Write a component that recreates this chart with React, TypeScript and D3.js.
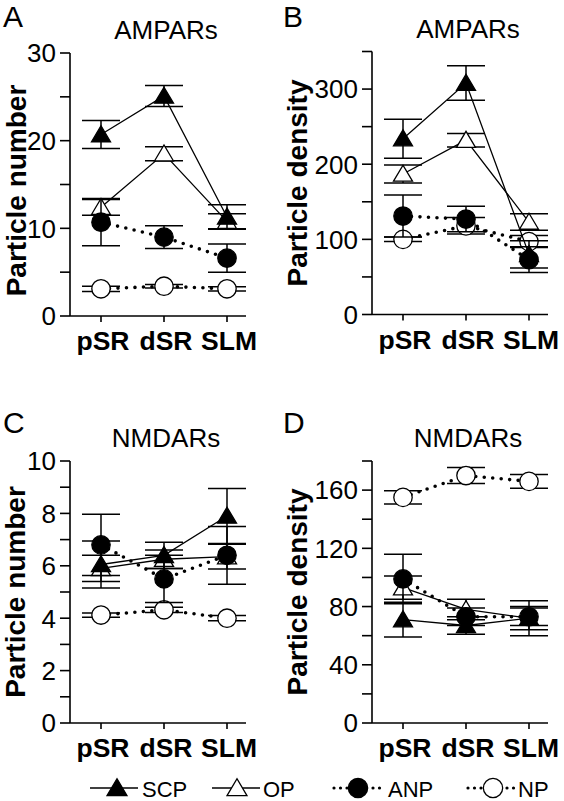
import React from "react";
import * as d3 from "d3";

const categories = ["pSR", "dSR", "SLM"];
const seriesNames = ["SCP", "OP", "ANP", "NP"];

// Panel A: AMPAR particle number (rows: SCP, OP, ANP, NP)
const ampaNumMeans = [
  [20.7, 25.1, 11.3],
  [12.4, 18.5, 10.8],
  [10.7, 9.0, 6.6],
  [3.1, 3.4, 3.1],
];
const ampaNumErrs = [
  [1.6, 1.2, 1.4],
  [0.9, 0.8, 0.85],
  [2.7, 1.3, 1.6],
  [0.3, 0.2, 0.25],
];
// Panel B: AMPAR particle density
const ampaDenMeans = [
  [234, 308, 80],
  [187, 232, 123],
  [131, 127, 73],
  [100, 118, 97],
];
const ampaDenErrs = [
  [26, 23, 18],
  [12, 9, 11],
  [28, 17, 17],
  [3, 11, 8],
];
// Panel C: NMDAR particle number
const nmdaNumMeans = [
  [6.05, 6.4, 7.9],
  [5.9, 6.25, 6.35],
  [6.8, 5.5, 6.4],
  [4.12, 4.32, 4.0],
];
const nmdaNumErrs = [
  [0.9, 0.5, 1.05],
  [0.5, 0.35, 0.47],
  [1.17, 0.9, 1.1],
  [0.08, 0.1, 0.1],
];
// Panel D: NMDAR particle density
const nmdaDenMeans = [
  [71, 67, 72],
  [93, 78, 72],
  [99, 73, 73],
  [155, 170, 166],
];
const nmdaDenErrs = [
  [12, 6, 12],
  [8, 7, 8],
  [17, 6, 6],
  [4.5, 5.5, 4.8],
];

const FONT = "'Liberation Sans', Arial, sans-serif";
const drawOrder = [3, 1, 0, 2];

function Marker({ i, x, y, s = 1 }: { i: number; x: number; y: number; s?: number }) {
  const filled = i === 0 || i === 2;
  if (i < 2) {
    const w = 9.5 * s, h = 16 * s;
    const pts = `${x - w},${y + h * 0.45} ${x + w},${y + h * 0.45} ${x},${y - h * 0.55}`;
    return <polygon points={pts} fill={filled ? "#000" : "#fff"} stroke="#000" strokeWidth={1.3} strokeLinejoin="miter" />;
  }
  return <circle cx={x} cy={y} r={9.2 * s} fill={filled ? "#000" : "#fff"} stroke="#000" strokeWidth={1.3} />;
}

function Panel(props: {
  x0: number; yBase: number; yTop: number; max: number; tickStep: number; labelStep: number;
  means: number[][]; errs: number[][]; letter: string; title: string; ylabel: string; ylabelX: number;
  letterX: number; letterY: number; ylabelDy: number;
}) {
  const { x0, yBase, yTop, max, tickStep, labelStep, means, errs } = props;
  const x = d3.scalePoint<string>().domain(categories).range([x0 + 31, x0 + 157]);
  const y = d3.scaleLinear().domain([0, max]).range([yBase, yTop]);
  const ticks = d3.range(0, max + tickStep / 2, tickStep);
  const line = d3.line<number>().x((_, j) => x(categories[j])!).y((v) => y(v));
  const midX = x(categories[1])!;
  return (
    <g>
      <text x={props.letterX} y={props.letterY} fontSize={30} fontFamily={FONT}>{props.letter}</text>
      <text x={midX + 2} y={yTop - 14} fontSize={26} fontFamily={FONT} textAnchor="middle">{props.title}</text>
      <text transform={`translate(${props.ylabelX},${(yBase + yTop) / 2 + props.ylabelDy}) rotate(-90)`} fontSize={28} fontWeight="bold" fontFamily={FONT} textAnchor="middle">{props.ylabel}</text>
      {/* y axis */}
      <line x1={x0} x2={x0} y1={yBase} y2={yTop} stroke="#000" strokeWidth={1.6} />
      {ticks.map((t) => (
        <g key={t}>
          <line x1={x0 - 10} x2={x0} y1={y(t)} y2={y(t)} stroke="#000" strokeWidth={1.6} />
          {Math.abs(t / labelStep - Math.round(t / labelStep)) < 1e-6 && (
            <text x={x0 - 14} y={y(t)} dy="0.36em" fontSize={26} fontFamily={FONT} textAnchor="end">{t}</text>
          )}
        </g>
      ))}
      {/* x axis */}
      <line x1={x0} x2={x0 + 176} y1={yBase} y2={yBase} stroke="#000" strokeWidth={1.6} />
      {categories.map((c) => (
        <g key={c}>
          <line x1={x(c)} x2={x(c)} y1={yBase} y2={yBase + 6} stroke="#000" strokeWidth={1.6} />
          <text x={x(c)! + 2} y={yBase + 34} fontSize={26.5} fontWeight="bold" fontFamily={FONT} textAnchor="middle">{c}</text>
        </g>
      ))}
      {/* series */}
      {drawOrder.map((i) => (
        <g key={seriesNames[i]}>
          <path d={line(means[i])!} fill="none" stroke="#000"
            strokeWidth={i < 2 ? 1.3 : 3.6}
            strokeDasharray={i < 2 ? undefined : "0 8.5"}
            strokeLinecap={i < 2 ? "butt" : "round"} />
          {means[i].map((v, j) => {
            const cx = x(categories[j])!;
            const e = errs[i][j];
            return (
              <g key={j}>
                <line x1={cx} x2={cx} y1={y(v - e)} y2={y(v + e)} stroke="#000" strokeWidth={1.5} />
                <line x1={cx - 19} x2={cx + 19} y1={y(v - e)} y2={y(v - e)} stroke="#000" strokeWidth={1.5} />
                <line x1={cx - 19} x2={cx + 19} y1={y(v + e)} y2={y(v + e)} stroke="#000" strokeWidth={1.5} />
              </g>
            );
          })}
          {means[i].map((v, j) => (
            <Marker key={"m" + j} i={i} x={x(categories[j])!} y={y(v)} />
          ))}
        </g>
      ))}
    </g>
  );
}

function Legend() {
  const cy = 788;
  const items = [
    { i: 0, l1: 90, l2: 138, m: 117, t: 142 },
    { i: 1, l1: 212, l2: 260, m: 237, t: 263 },
    { i: 2, l1: 334, l2: 386, m: 358, t: 388 },
    { i: 3, l1: 468, l2: 516, m: 493, t: 518 },
  ];
  return (
    <g>
      {items.map((it) => (
        <g key={it.i}>
          <line x1={it.l1} x2={it.l2} y1={cy} y2={cy} stroke="#000"
            strokeWidth={it.i < 2 ? 1.3 : 3.2}
            strokeDasharray={it.i < 2 ? undefined : "0 6.5"}
            strokeLinecap={it.i < 2 ? "butt" : "round"} />
          <Marker i={it.i} x={it.m} y={cy} s={1.05} />
          <text x={it.t} y={cy + 8.5} fontSize={22} fontFamily={FONT}>{seriesNames[it.i]}</text>
        </g>
      ))}
    </g>
  );
}

export default function App() {
  return (
    <svg width={564} height={801} style={{ position: "absolute", left: 0, top: 0, background: "#fff" }}>
      <rect width={564} height={801} fill="#fff" />
      <Panel x0={70} yBase={316} yTop={53} max={30} tickStep={5} labelStep={10}
        means={ampaNumMeans} errs={ampaNumErrs} letter="A" title="AMPARs" ylabel="Particle number"
        ylabelX={26} letterX={3} letterY={27} ylabelDy={6} />
      <Panel x0={372} yBase={314.5} yTop={51.5} max={350} tickStep={50} labelStep={100}
        means={ampaDenMeans} errs={ampaDenErrs} letter="B" title="AMPARs" ylabel="Particle density"
        ylabelX={307} letterX={283} letterY={27} ylabelDy={0} />
      <Panel x0={70} yBase={723} yTop={461} max={10} tickStep={1} labelStep={2}
        means={nmdaNumMeans} errs={nmdaNumErrs} letter="C" title="NMDARs" ylabel="Particle number"
        ylabelX={25} letterX={3} letterY={433} ylabelDy={0} />
      <Panel x0={372} yBase={723} yTop={461} max={180} tickStep={20} labelStep={40}
        means={nmdaDenMeans} errs={nmdaDenErrs} letter="D" title="NMDARs" ylabel="Particle density"
        ylabelX={307} letterX={283} letterY={433} ylabelDy={0} />
      <Legend />
    </svg>
  );
}
